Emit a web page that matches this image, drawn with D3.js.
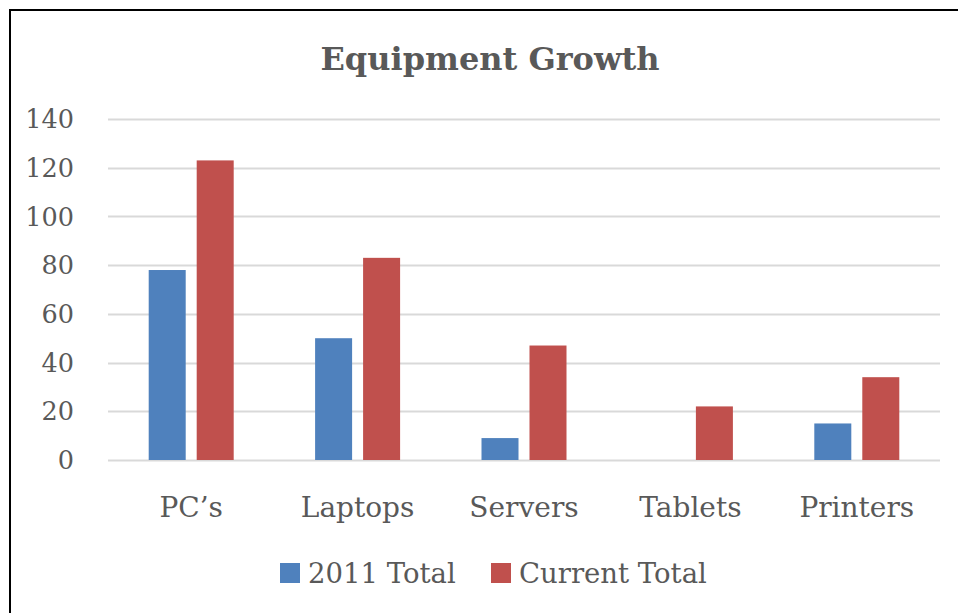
<!DOCTYPE html>
<html>
<head>
<meta charset="utf-8">
<script src="https://cdn.jsdelivr.net/npm/d3@7"></script>
<style>
  html, body { margin: 0; padding: 0; background: #fff; }
  svg { display: block; }
  text { font-family: "DejaVu Serif", "Liberation Serif", serif; fill: #595959; }
</style>
</head>
<body>
<div id="chart"></div>
<script>
const categories = ["PC\u2019s", "Laptops", "Servers", "Tablets", "Printers"];
const seriesNames = ["2011 Total", "Current Total"];
const total2011 = [78, 50, 9, 0, 15];
const totalCurrent = [123, 83, 47, 22, 34];
const yTicks = [0, 20, 40, 60, 80, 100, 120, 140];
const seriesColors = ["#4F81BD", "#C0504D"];

const width = 958;
const height = 613;
const plot = { left: 108, right: 940, top: 119, bottom: 460 };

const rows = categories.map((cat, i) => ({
  label: cat,
  values: [total2011[i], totalCurrent[i]]
}));

const svg = d3.select("#chart")
  .append("svg")
  .attr("width", width)
  .attr("height", height);

svg.append("rect")
  .attr("width", width)
  .attr("height", height)
  .attr("fill", "#fff");

// frame (only top and left edges fall inside the picture)
svg.append("rect")
  .attr("x", 10)
  .attr("y", 10)
  .attr("width", 1000)
  .attr("height", 1000)
  .attr("fill", "none")
  .attr("stroke", "#000")
  .attr("stroke-width", 2);

const x0 = d3.scaleBand()
  .domain(categories)
  .range([plot.left, plot.right])
  .padding(0);

const groupWidth = 85;
const x1 = d3.scaleBand()
  .domain(seriesNames)
  .range([0, groupWidth])
  .paddingInner(0.229);

const y = d3.scaleLinear()
  .domain([0, 140])
  .range([plot.bottom, plot.top]);

// gridlines
svg.append("g")
  .selectAll("line")
  .data(yTicks)
  .join("line")
  .attr("x1", plot.left)
  .attr("x2", plot.right)
  .attr("y1", (d) => Math.round(y(d)) + 0.5)
  .attr("y2", (d) => Math.round(y(d)) + 0.5)
  .attr("stroke", "#D9D9D9")
  .attr("stroke-width", 2);

// y tick labels
svg.append("g")
  .selectAll("text")
  .data(yTicks)
  .join("text")
  .attr("x", 74)
  .attr("y", (d) => y(d))
  .attr("dy", "0.36em")
  .attr("text-anchor", "end")
  .attr("font-size", 25.5)
  .text((d) => d);

// bars
const groups = svg.append("g")
  .selectAll("g")
  .data(rows)
  .join("g")
  .attr("transform", (d) => `translate(${x0(d.label) + (x0.bandwidth() - groupWidth) / 2},0)`);

groups.selectAll("rect")
  .data((d) => d.values.map((v, i) => ({ key: seriesNames[i], value: v, idx: i })))
  .join("rect")
  .attr("x", (d) => x1(d.key))
  .attr("y", (d) => y(d.value))
  .attr("width", x1.bandwidth())
  .attr("height", (d) => Math.max(0, y(0) - y(d.value)))
  .attr("fill", (d) => seriesColors[d.idx]);

// category labels
svg.append("g")
  .selectAll("text")
  .data(categories)
  .join("text")
  .attr("x", (d) => x0(d) + x0.bandwidth() / 2)
  .attr("y", 517)
  .attr("text-anchor", "middle")
  .attr("font-size", 28)
  .text((d) => d);

// title
svg.append("text")
  .attr("x", 490)
  .attr("y", 70)
  .attr("text-anchor", "middle")
  .attr("font-size", 32)
  .attr("font-weight", "bold")
  .text("Equipment Growth");

// legend
const legendItems = [
  { name: seriesNames[0], color: seriesColors[0], x: 280 },
  { name: seriesNames[1], color: seriesColors[1], x: 491 }
];
const legend = svg.append("g")
  .selectAll("g")
  .data(legendItems)
  .join("g")
  .attr("transform", (d) => `translate(${d.x},0)`);

legend.append("rect")
  .attr("x", 0)
  .attr("y", 563)
  .attr("width", 20)
  .attr("height", 20)
  .attr("fill", (d) => d.color);

legend.append("text")
  .attr("x", 28)
  .attr("y", 583)
  .attr("font-size", 27.5)
  .text((d) => d.name);
</script>
</body>
</html>
